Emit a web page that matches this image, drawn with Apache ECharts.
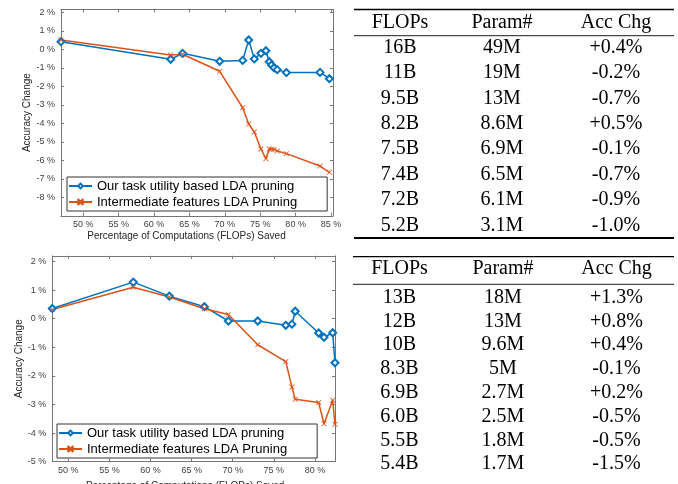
<!DOCTYPE html>
<html>
<head>
<meta charset="utf-8">
<script src="https://cdn.jsdelivr.net/npm/echarts@6/dist/echarts.min.js"></script>
<style>
html,body{margin:0;padding:0;background:#fff;}
#main{width:678px;height:484px;}
</style>
</head>
<body>
<div id="main"></div>
<script>
// ---------- data ----------
const seriesNames = ['Our task utility based LDA pruning', 'Intermediate features LDA Pruning'];

const topX = [46.85, 62.35, 64.04, 69.27, 72.52, 73.37, 74.16, 75.1, 75.8, 76.28, 76.6, 76.95, 77.4, 78.7, 83.45, 84.77];
const topBlue = [0.41, -0.54, -0.22, -0.65, -0.6, 0.5, -0.52, -0.22, -0.08, -0.67, -0.85, -1.0, -1.1, -1.26, -1.25, -1.59];
const topOrange = [0.5, -0.31, -0.27, -1.19, -3.16, -4.04, -4.47, -5.39, -5.91, -5.39, -5.4, -5.41, -5.5, -5.64, -6.31, -6.65];

const botX = [48.05, 57.9, 62.29, 66.55, 69.47, 73.04, 76.45, 77.2, 77.6, 80.45, 81.1, 82.16, 82.44];
const botBlue = [0.36, 1.28, 0.79, 0.42, -0.08, -0.08, -0.23, -0.19, 0.26, -0.5, -0.65, -0.49, -1.54];
const botOrange = [0.32, 1.1, 0.76, 0.35, 0.15, -0.91, -1.5, -2.39, -2.82, -2.93, -3.67, -2.85, -3.69];

const topXTicks = [50, 55, 60, 65, 70, 75, 80, 85];
const topYTicks = [-8, -7, -6, -5, -4, -3, -2, -1, 0, 1, 2];
const botXTicks = [50, 55, 60, 65, 70, 75, 80];
const botYTicks = [-5, -4, -3, -2, -1, 0, 1, 2];

const tableHeader = ['FLOPs', 'Param#', 'Acc Chg'];
const t1Flops = ['16B', '11B', '9.5B', '8.2B', '7.5B', '7.4B', '7.2B', '5.2B'];
const t1Params = ['49M', '19M', '13M', '8.6M', '6.9M', '6.5M', '6.1M', '3.1M'];
const t1Acc = ['+0.4%', '-0.2%', '-0.7%', '+0.5%', '-0.1%', '-0.7%', '-0.9%', '-1.0%'];
const t2Flops = ['13B', '12B', '10B', '8.3B', '6.9B', '6.0B', '5.5B', '5.4B'];
const t2Params = ['18M', '13M', '9.6M', '5M', '2.7M', '2.5M', '1.8M', '1.7M'];
const t2Acc = ['+1.3%', '+0.8%', '+0.4%', '-0.1%', '+0.2%', '-0.5%', '-0.5%', '-1.5%'];

// ---------- style ----------
const BLUE = '#0072BD', ORANGE = '#D95319';
const AX = '#777777', LBL = '#404040';
const SANS = "'Liberation Sans', Arial, Helvetica, sans-serif";
const SERIF = "'Liberation Serif', 'Times New Roman', serif";
const XMARK = 'path://M0,0.8L0.8,0L5,4.2L9.2,0L10,0.8L5.8,5L10,9.2L9.2,10L5,5.8L0.8,10L0,9.2L4.2,5Z';

const pct = v => v + ' %';

function mainX(gi, min, max, ticks, namePadRight, nameGap) {
  return {
    type: 'value', gridIndex: gi, min: min, max: max, position: 'bottom',
    axisLine: { show: true, onZero: false, lineStyle: { color: AX, width: 1 } },
    axisTick: { show: true, inside: true, length: 3, customValues: ticks, lineStyle: { color: AX } },
    axisLabel: { show: true, customValues: ticks, formatter: pct, margin: 4, fontSize: 9, color: LBL, fontFamily: SANS },
    splitLine: { show: false },
    name: 'Percentage of Computations (FLOPs) Saved', nameLocation: 'middle', nameGap: nameGap,
    nameTextStyle: { fontSize: 10, color: '#262626', fontFamily: SANS, padding: [0, namePadRight, 0, 0] }
  };
}
function mirrorX(gi, min, max, ticks) {
  return {
    type: 'value', gridIndex: gi, min: min, max: max, position: 'top',
    axisLine: { show: true, onZero: false, lineStyle: { color: AX, width: 1 } },
    axisTick: { show: true, inside: true, length: 3, customValues: ticks, lineStyle: { color: AX } },
    axisLabel: { show: false }, splitLine: { show: false }
  };
}
function mainY(gi, min, max, ticks) {
  return {
    type: 'value', gridIndex: gi, min: min, max: max, position: 'left',
    axisLine: { show: true, onZero: false, lineStyle: { color: AX, width: 1 } },
    axisTick: { show: true, inside: true, length: 3, customValues: ticks, lineStyle: { color: AX } },
    axisLabel: { show: true, customValues: ticks, formatter: pct, margin: 6, fontSize: 9, color: LBL, fontFamily: SANS },
    splitLine: { show: false },
    name: 'Accuracy Change', nameLocation: 'middle', nameGap: 27, nameRotate: 90,
    nameTextStyle: { fontSize: 10, color: '#262626', fontFamily: SANS }
  };
}
function mirrorY(gi, min, max, ticks) {
  return {
    type: 'value', gridIndex: gi, min: min, max: max, position: 'right',
    axisLine: { show: true, onZero: false, lineStyle: { color: AX, width: 1 } },
    axisTick: { show: true, inside: true, length: 3, customValues: ticks, lineStyle: { color: AX } },
    axisLabel: { show: false }, splitLine: { show: false }
  };
}
function lineSeries(name, xi, yi, xs, ys, color, symbol, size, bw) {
  return {
    name: name, type: 'line', xAxisIndex: xi, yAxisIndex: yi,
    data: xs.map((x, i) => [x, ys[i]]),
    symbol: symbol, symbolSize: size, showAllSymbol: true,
    lineStyle: { color: color, width: 1.5 },
    itemStyle: { color: color, borderColor: color, borderWidth: bw },
    emphasis: { disabled: true }, animation: false, clip: false
  };
}
function legendBox(left, top) {
  return {
    orient: 'vertical', left: left, top: top, data: seriesNames,
    backgroundColor: '#fff', borderColor: '#333', borderWidth: 1, borderRadius: 0,
    padding: [2, 30, 2, 1], itemGap: 2, itemWidth: 23, itemHeight: 6,
    textStyle: { fontSize: 13, color: '#000', fontFamily: SANS, lineHeight: 14 },
    selectedMode: false
  };
}

// ---------- tables ----------
const graphics = [];
function hline(x1, x2, y, w) {
  graphics.push({ type: 'line', shape: { x1: x1, y1: y, x2: x2, y2: y }, style: { stroke: '#000', lineWidth: w }, silent: true });
}
function cell(txt, x, y) {
  graphics.push({ type: 'text', x: x, y: y, silent: true,
    style: { text: txt, align: 'center', verticalAlign: 'middle', font: '20px ' + SERIF, fill: '#000' } });
}
function table(cols, colX, headerY, rowY0, rowStep, ruleX1, ruleX2, topRule, headRule, bottomRule) {
  hline(ruleX1, ruleX2, topRule, 1.3);
  hline(ruleX1, ruleX2, headRule, 0.9);
  if (bottomRule !== null) hline(ruleX1, ruleX2, bottomRule, 2);
  tableHeader.forEach((h, j) => cell(h, colX[j], headerY));
  cols.forEach((col, j) => col.forEach((v, i) => cell(v, colX[j], rowY0 + i * rowStep)));
}
table([t1Flops, t1Params, t1Acc], [400, 502, 616], 22.7, 47.5, 25.4, 354, 674, 9.5, 35.7, 238);
table([t2Flops, t2Params, t2Acc], [399.5, 503, 616.5], 268.3, 297.5, 23.8, 353, 674, 256.7, 284.3, null);

// ---------- chart ----------
const chart = echarts.init(document.getElementById('main'), null, { renderer: 'canvas' });
chart.setOption({
  animation: false,
  backgroundColor: '#fff',
  textStyle: { fontFamily: SANS },
  grid: [
    { left: 61, top: 9.5, width: 272, height: 206.3, containLabel: false, outerBoundsMode: 'none' },
    { left: 52.3, top: 255.8, width: 282.7, height: 205.9, containLabel: false, outerBoundsMode: 'none' }
  ],
  xAxis: [
    mainX(0, 46.85, 85.28, topXTicks, 21, 15),
    mirrorX(0, 46.85, 85.28, topXTicks),
    mainX(1, 48.05, 82.44, botXTicks, 17, 20),
    mirrorX(1, 48.05, 82.44, botXTicks)
  ],
  yAxis: [
    mainY(0, -9, 2.15, topYTicks),
    mirrorY(0, -9, 2.15, topYTicks),
    mainY(1, -5, 2.2, botYTicks),
    mirrorY(1, -5, 2.2, botYTicks)
  ],
  legend: [legendBox(67, 177), legendBox(57, 424)],
  series: [
    lineSeries(seriesNames[0], 0, 0, topX, topBlue, BLUE, 'emptyDiamond', 7, 1.2),
    lineSeries(seriesNames[1], 0, 0, topX, topOrange, ORANGE, XMARK, 5, 0.3),
    lineSeries(seriesNames[0], 2, 2, botX, botBlue, BLUE, 'emptyDiamond', 7, 1.2),
    lineSeries(seriesNames[1], 2, 2, botX, botOrange, ORANGE, XMARK, 5, 0.3)
  ],
  graphic: graphics
});
</script>
</body>
</html>
